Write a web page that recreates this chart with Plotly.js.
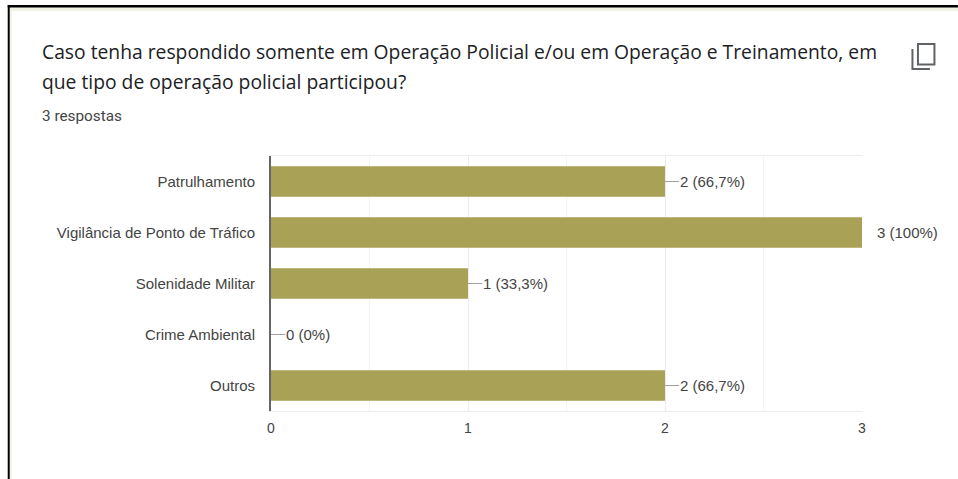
<!DOCTYPE html>
<html lang="pt">
<head>
<meta charset="utf-8">
<script src="https://cdn.plot.ly/plotly-3.0.1.min.js"></script>
<style>html,body{margin:0;padding:0;background:#fff}#chart{width:958px;height:479px}</style>
</head>
<body>
<div id="chart"></div>
<script>
// Respostas por tipo de operação policial
const categories = ["Patrulhamento", "Vigilância de Ponto de Tráfico", "Solenidade Militar", "Crime Ambiental", "Outros"];
const counts = [2, 3, 1, 0, 2];
const valueLabels = ["2 (66,7%)", "3 (100%)", "1 (33,3%)", "0 (0%)", "2 (66,7%)"];
const xTicks = [0, 1, 2, 3];
const questionLines = [
  "Caso tenha respondido somente em Operação Policial e/ou em Operação e Treinamento, em",
  "que tipo de operação policial participou?"
];
const responseNote = "3 respostas";

const W = 958, H = 479;
const M = { l: 270.5, r: 96, t: 156, b: 68 };
// Page pixels to the plot-relative fractions used by paper references
const fx = v => (v - M.l) / (W - M.l - M.r);
const fy = v => 1 - (v - M.t) / (H - M.t - M.b);
const headFont = '"Open Sans", Roboto, sans-serif';
const bodyFont = '"Liberation Sans", Arial, sans-serif';

// Line from the page header placed by pixel position
const headerText = (text, x, y, size, color, font) => ({
  text, xref: "paper", yref: "paper", x: fx(x), y: fy(y),
  xanchor: "left", yanchor: "middle", showarrow: false,
  font: { family: font, size, color }
});

// Copy icon: front sheet and the corner of the sheet behind it
const iconPath = (pts, close) =>
  "M" + pts.map(p => fx(p[0]) + "," + fy(p[1])).join(" L") + (close ? " Z" : "");
const iconStyle = { color: "#5f6368", width: 2 };

const barTrace = {
  type: "bar", orientation: "h", y: categories, x: counts,
  width: 0.6, marker: { color: "#a9a155" }, hoverinfo: "skip"
};

// Thin leader from each bar end toward its label
const leaderTrace = {
  type: "scatter", mode: "markers", y: categories, x: counts,
  marker: { size: 1, opacity: 0 }, hoverinfo: "skip",
  error_x: { type: "constant", value: 0.072, symmetric: false, valueminus: 0, width: 0, thickness: 1, color: "#a0a0a0" }
};

const valueNotes = categories.map((c, i) => ({
  x: counts[i], y: c, xref: "x", yref: "y", text: valueLabels[i],
  xanchor: "left", yanchor: "middle", xshift: 13, showarrow: false,
  font: { family: bodyFont, size: 15, color: "#444" }
}));

// Rectangle in page pixels, for the page frame
const frameRect = (x0, y0, x1, y1, fillcolor, layer) => ({
  type: "rect", layer, xref: "paper", yref: "paper",
  x0: fx(x0), x1: fx(x1), y0: fy(y0), y1: fy(y1), line: { width: 0 }, fillcolor
});

const layout = {
  width: W, height: H, showlegend: false,
  paper_bgcolor: "#fff", plot_bgcolor: "#fff",
  margin: { l: M.l, r: M.r, t: M.t, b: M.b, pad: 0 },
  title: {
    text: questionLines[0], xref: "container", yref: "container", automargin: false,
    x: 42 / W, xanchor: "left", y: 1 - 52 / H, yanchor: "middle",
    font: { family: headFont, size: 19.3, color: "#202124" }
  },
  xaxis: {
    range: [0, 3], tickvals: xTicks, ticktext: xTicks.map(String),
    ticks: "outside", ticklen: 4, tickcolor: "rgba(0,0,0,0)",
    showgrid: true, gridcolor: "#ececec", gridwidth: 1, zeroline: false,
    minor: { dtick: 0.5, showgrid: true, gridcolor: "#f4f4f4", gridwidth: 1, ticks: "" },
    showline: true, linecolor: "#ececec", linewidth: 1, mirror: true,
    tickfont: { family: bodyFont, size: 14, color: "#444" }
  },
  yaxis: {
    type: "category", categoryorder: "array", categoryarray: categories,
    autorange: "reversed", showgrid: false, zeroline: false,
    ticks: "outside", ticklen: 11, tickcolor: "rgba(0,0,0,0)",
    showline: true, linecolor: "#666", linewidth: 2,
    tickfont: { family: bodyFont, size: 15, color: "#444" }
  },
  annotations: [
    headerText(questionLines[1], 39, 82, 19.3, "#202124", headFont),
    headerText(responseNote, 39, 116, 15.3, "#444", "Roboto, sans-serif")
  ].concat(valueNotes),
  shapes: [
    // Frame of the page
    frameRect(9, 7, W, 11, "#f0f2e6", "below"),
    frameRect(9, 7, 11, H, "#f0f2e6", "below"),
    frameRect(7, 5, W, 7.5, "#000", "above"),
    frameRect(7, 5, 9, H, "#000", "above"),
    // Copy icon
    { type: "path", xref: "paper", yref: "paper", path: iconPath([[918, 44], [934.5, 44], [934.5, 64.5], [918, 64.5]], true), line: iconStyle },
    { type: "path", xref: "paper", yref: "paper", path: iconPath([[912.5, 49], [912.5, 69], [930, 69]], false), line: iconStyle }
  ]
};

Plotly.newPlot("chart", [barTrace, leaderTrace], layout, { displayModeBar: false, staticPlot: true });
</script>
</body>
</html>
